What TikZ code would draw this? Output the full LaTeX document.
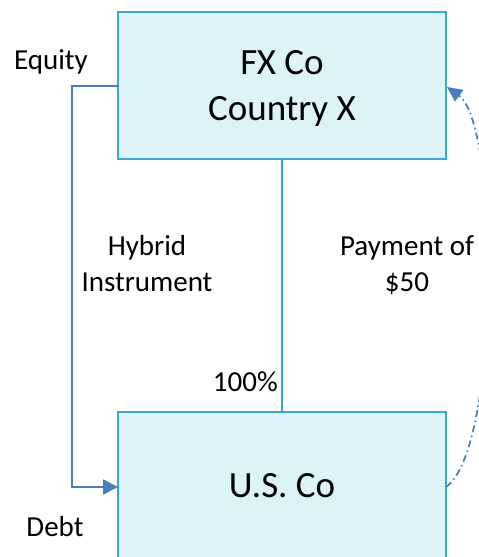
\documentclass[tikz,border=0pt]{standalone}
\usepackage{fontspec}
\setmainfont{Carlito}
\usetikzlibrary{arrows.meta}
\definecolor{boxline}{HTML}{3EA8C7}
\definecolor{boxfill}{HTML}{DCF3F8}
\definecolor{linkblue}{HTML}{4A7EBB}
\tikzset{
  entity/.style={draw=boxline, fill=boxfill, line width=2bp},
  bigtext/.style={font=\fontsize{37bp}{46bp}\selectfont, align=center, inner sep=0pt},
  smalltext/.style={font=\fontsize{29bp}{36bp}\selectfont, align=center, inner sep=0pt},
  owner/.style={draw=boxline, line width=1.75bp},
  hybrid/.style={draw=linkblue, line width=1.75bp, -{Triangle[length=15bp,width=15bp]}},
  payment/.style={draw=linkblue, line width=1.75bp, dash pattern=on 7bp off 3.5bp on 1.5bp off 3.5bp, -{Triangle[length=15bp,width=14bp]}}
}
\begin{document}
\begin{tikzpicture}[x=1bp,y=-1bp]
\useasboundingbox (0,0) rectangle (479,557);
% boxes
\path[entity] (118,12) rectangle (446,159);
\path[entity] (118,412) rectangle (446,562);
\coordinate (fxL) at (119,86);
\coordinate (fxR) at (447,87);
\coordinate (fxB) at (282,159);
\coordinate (usT) at (282,412);
\coordinate (usL) at (118,487);
\coordinate (usR) at (446,487);
\coordinate (eqC) at (72,86);
\coordinate (dbC) at (72,487);
% texts
\node[bigtext, anchor=base] (fx) at (282,121) {FX Co\\Country X};
\node[bigtext, anchor=base] (us) at (282,497) {U.S. Co};
\node[smalltext, anchor=base] (eq) at (51,70) {Equity};
\node[smalltext, anchor=base] (db) at (55,536) {Debt};
\node[smalltext, anchor=base] (hy) at (147,291) {Hybrid\\Instrument};
\node[smalltext, anchor=base] (pay) at (407,291) {Payment of\\\$50};
\node[smalltext, anchor=base east] (pct) at (278,391) {100\%};
% connectors
\draw[owner] (fxB) -- (usT);
\draw[hybrid] (fxL) -- (eqC) -- (dbC) -- (usL);
\draw[payment] (usR) .. controls (500,450) and (500,125) .. (fxR);
\end{tikzpicture}
\end{document}
